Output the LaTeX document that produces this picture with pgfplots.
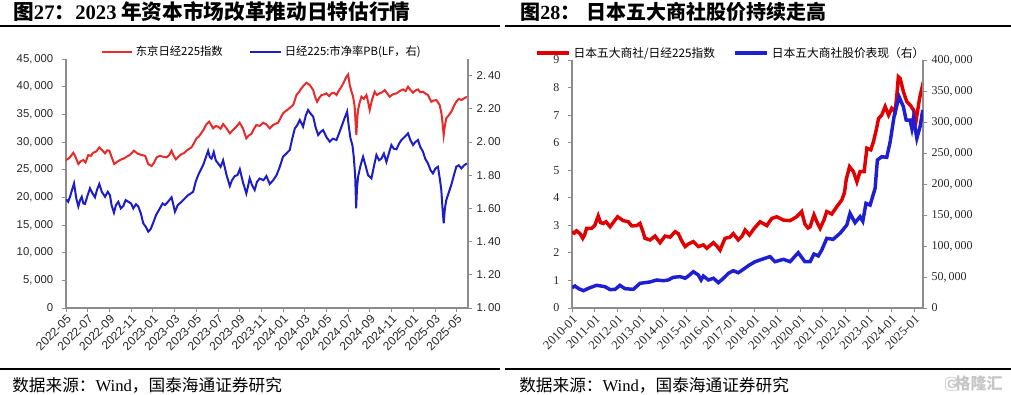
\documentclass[border=0pt]{standalone}
\usepackage{pgfplots}
\usepackage{pgfplotstable}
\pgfplotsset{compat=1.18}
\usepackage{fontspec}
\setmainfont{Liberation Sans}
\newfontfamily\cjk{Noto Sans CJK SC}
\newfontfamily\serif{Liberation Serif}
\definecolor{nred}{RGB}{232,42,42}
\definecolor{nblue}{RGB}{28,28,200}
\definecolor{axgray}{RGB}{140,140,140}
\definecolor{rred}{RGB}{225,0,0}
\definecolor{rblue}{RGB}{30,30,210}

\pgfplotstableread{
m v
0 26740
0.3 27100
0.68 28060
0.9 27200
1.14 26020
1.35 26500
1.6 26740
1.8 26300
2.05 27650
2.3 27500
2.5 28060
2.8 28300
3.07 29030
3.3 28600
3.6 27950
3.8 28500
4.0 28430
4.2 27300
4.45 26020
4.7 26400
4.97 26740
5.3 27000
5.59 27340
5.9 27700
6.26 28430
6.6 27900
6.97 27650
7.3 27500
7.58 26020
7.89 25660
8.1 26200
8.35 27230
8.65 27500
8.96 27340
9.27 27230
9.5 27600
9.73 28430
9.9 27600
10.13 26860
10.4 27400
10.65 27830
10.9 28000
11.1 28430
11.3 28700
11.56 29030
11.8 29800
12.03 30660
12.25 31000
12.49 31680
12.7 32300
12.95 33250
13.2 33670
13.4 33000
13.56 32470
13.8 32900
14.02 32760
14.25 32400
14.48 33250
14.75 32600
15.1 31570
15.4 32200
15.65 32650
16.0 33490
16.3 32500
16.62 30660
16.85 31200
17.08 31440
17.3 32300
17.54 33070
17.85 32900
18.17 33490
18.45 33200
18.78 32470
19.1 33100
19.55 33490
20.0 35180
20.25 35600
20.47 35900
20.7 36300
20.93 36680
21.1 37600
21.24 38490
21.5 39100
21.7 39700
21.95 40300
22.16 40710
22.47 40300
22.78 39390
22.95 38200
23.14 37280
23.35 38000
23.55 38490
23.8 38600
24.0 38790
24.25 38300
24.47 38790
24.7 38900
24.93 38490
25.15 39300
25.39 39990
25.6 40800
25.85 41800
26.0 42200
26.15 40300
26.3 39200
26.46 38180
26.6 36500
26.76 31260
26.85 34500
26.92 35780
27.05 37000
27.23 38180
27.45 37800
27.69 38490
27.85 37200
27.99 35780
28.2 37600
28.45 39090
28.65 38500
28.91 38790
29.15 39000
29.37 39390
29.6 38800
29.83 38180
30.1 38600
30.45 38790
30.75 39200
31.06 39510
31.3 39200
31.52 39990
31.75 39400
31.98 38910
32.2 39300
32.44 39510
32.65 39000
32.9 39090
33.1 38800
33.36 38490
33.5 37900
33.67 37280
33.9 37500
34.13 37590
34.3 37100
34.44 36680
34.6 35200
34.69 33670
34.81 31260
34.92 33000
35.05 34280
35.3 34900
35.51 35470
35.75 36500
35.97 37280
36.2 37800
36.44 37590
36.7 37900
36.95 38180
}\nikkei

\pgfplotstableread{
m v
0 1.655
0.2 1.64
0.37 1.67
0.55 1.71
0.74 1.751
0.95 1.66
1.14 1.612
1.3 1.65
1.45 1.67
1.6 1.63
1.75 1.627
2.0 1.68
2.21 1.721
2.45 1.69
2.67 1.667
2.85 1.71
3.07 1.747
3.3 1.70
3.6 1.67
3.85 1.70
4.05 1.68
4.2 1.62
4.42 1.574
4.6 1.62
4.82 1.64
5.05 1.60
5.28 1.614
5.5 1.65
5.74 1.64
6.0 1.63
6.2 1.60
6.45 1.625
6.66 1.612
6.9 1.57
7.12 1.51
7.35 1.49
7.58 1.46
7.8 1.475
8.04 1.514
8.3 1.56
8.65 1.60
8.9 1.63
9.12 1.62
9.4 1.64
9.73 1.667
9.9 1.62
10.04 1.58
10.3 1.62
10.65 1.64
10.95 1.66
11.26 1.68
11.5 1.69
11.72 1.70
11.95 1.76
12.18 1.80
12.4 1.83
12.64 1.861
12.85 1.90
13.1 1.947
13.25 1.91
13.41 1.90
13.62 1.94
13.8 1.89
14.02 1.871
14.25 1.85
14.48 1.89
14.8 1.80
15.1 1.735
15.3 1.77
15.56 1.795
15.8 1.80
16.02 1.836
16.3 1.76
16.62 1.69
16.8 1.74
16.93 1.781
17.15 1.74
17.39 1.711
17.6 1.76
17.85 1.78
18.2 1.77
18.47 1.795
18.78 1.747
19.1 1.77
19.4 1.80
19.7 1.85
20.0 1.911
20.3 1.93
20.62 1.952
20.85 2.02
21.09 2.082
21.3 2.10
21.55 2.133
21.85 2.092
22.1 2.16
22.31 2.193
22.55 2.17
22.78 2.153
23.0 2.09
23.24 2.042
23.45 2.06
23.7 2.072
24.0 2.03
24.31 2.002
24.6 2.02
24.93 2.012
25.15 2.05
25.39 2.092
25.65 2.14
25.91 2.183
26.05 2.10
26.22 2.022
26.4 1.98
26.52 1.911
26.65 1.80
26.74 1.60
26.82 1.72
26.92 1.791
27.15 1.86
27.38 1.911
27.6 1.86
27.84 1.80
28.0 1.79
28.15 1.781
28.4 1.86
28.61 1.922
28.85 1.89
29.07 1.90
29.3 1.93
29.53 1.88
29.75 1.93
29.99 1.982
30.2 1.96
30.45 1.956
30.7 1.99
30.91 2.012
31.2 2.03
31.52 2.052
31.75 2.01
31.98 1.982
32.2 2.00
32.44 2.012
32.65 1.97
32.9 1.942
33.1 1.90
33.36 1.871
33.6 1.83
33.82 1.811
34.05 1.84
34.28 1.851
34.45 1.78
34.59 1.711
34.7 1.60
34.81 1.51
34.92 1.60
35.05 1.651
35.3 1.70
35.51 1.741
35.75 1.80
35.97 1.851
36.2 1.86
36.44 1.841
36.7 1.86
36.95 1.871
}\pbtab

\pgfplotstableread{
t v
2010.0 2.77
2010.1 2.72
2010.2 2.80
2010.35 2.70
2010.47 2.53
2010.55 2.65
2010.64 2.89
2010.86 2.89
2011.0 3.00
2011.15 3.34
2011.25 3.10
2011.37 3.07
2011.49 3.13
2011.67 2.95
2011.85 3.15
2012.0 3.31
2012.25 3.17
2012.47 3.13
2012.62 2.98
2012.84 2.99
2012.98 3.07
2013.1 2.80
2013.2 2.53
2013.42 2.47
2013.64 2.61
2013.86 2.37
2014.08 2.61
2014.3 2.57
2014.52 2.77
2014.66 2.70
2014.8 2.45
2014.96 2.23
2015.1 2.32
2015.32 2.41
2015.54 2.23
2015.76 2.29
2015.91 2.17
2016.2 2.37
2016.35 2.25
2016.49 2.10
2016.71 2.53
2016.93 2.57
2017.07 2.70
2017.29 2.47
2017.45 2.60
2017.59 2.83
2017.78 2.65
2018.0 2.90
2018.25 3.13
2018.54 2.99
2018.76 3.25
2018.98 3.31
2019.27 3.19
2019.56 3.17
2019.85 3.31
2020.07 3.50
2020.21 3.05
2020.35 2.90
2020.44 2.95
2020.61 3.38
2020.75 3.10
2020.88 2.89
2021.05 3.20
2021.17 3.50
2021.39 3.41
2021.61 3.68
2021.83 3.92
2021.95 4.20
2022.02 4.65
2022.17 5.13
2022.34 4.95
2022.49 4.58
2022.63 4.95
2022.81 4.95
2022.93 5.80
2023.1 5.74
2023.22 6.04
2023.35 6.50
2023.44 6.88
2023.58 7.00
2023.73 7.31
2023.88 7.00
2024.02 7.25
2024.17 7.13
2024.25 7.80
2024.31 8.39
2024.39 8.33
2024.53 7.85
2024.68 7.49
2024.82 7.37
2024.97 7.19
2025.09 6.82
2025.24 7.61
2025.34 7.97
2025.41 7.73
}\ratio

\pgfplotstableread{
t v
2010.0 32800
2010.13 35500
2010.3 31000
2010.5 28000
2010.79 32800
2011.08 36600
2011.45 34400
2011.67 29600
2011.89 30100
2012.1 36600
2012.32 31200
2012.69 30100
2012.98 39800
2013.2 40900
2013.42 42000
2013.71 45200
2014.0 44000
2014.22 45200
2014.44 49500
2014.74 50600
2014.96 48000
2015.1 51600
2015.32 58600
2015.54 53200
2015.66 45200
2015.76 51600
2015.98 45200
2016.2 48000
2016.42 40900
2016.64 48000
2016.86 56000
2017.07 60200
2017.29 56900
2017.51 62400
2017.78 69400
2018.03 74700
2018.32 78500
2018.68 82800
2018.9 74700
2019.27 78500
2019.56 74700
2019.92 89200
2020.21 74700
2020.44 74700
2020.61 87100
2020.8 84000
2020.95 93500
2021.17 112400
2021.45 110800
2021.75 120400
2022.05 133900
2022.19 152700
2022.41 137600
2022.63 147300
2022.75 140000
2022.89 168900
2023.07 166000
2023.29 193000
2023.39 238700
2023.58 244000
2023.8 243000
2023.95 268000
2024.12 308600
2024.34 340800
2024.53 324700
2024.65 303200
2024.82 303000
2024.9 289800
2024.97 306000
2025.12 273700
2025.26 292400
2025.38 319400
}\shosha

\pgfplotsset{
  base/.style={scale only axis, anchor=south west,
    axis line style={axgray, line width=0.8pt},
    tick style={axgray, line width=0.6pt},
    major tick length=3pt, tick align=outside,
    /pgf/number format/assume math mode=true,
    ticklabel style={text=black!85},
    scaled ticks=false},
}

\begin{document}
\begin{tikzpicture}[x=0.75pt,y=-0.75pt]
\path[use as bounding box] (0,0) rectangle (1011,394);

% titles and rules
\node[anchor=base west, inner sep=0pt, font=\cjk\bfseries\fontsize{15.5}{15.5}\selectfont] at (13,19)
  {图{\serif\bfseries 27}：{\serif\bfseries 2023} 年资本市场改革推动日特估行情};
\node[anchor=base west, inner sep=0pt, font=\cjk\bfseries\fontsize{15}{15}\selectfont] at (520,19)
  {图{\serif\bfseries 28}：\hspace{5pt}日本五大商社股价持续走高};
\draw[line width=1.1pt] (0,26) -- (500,26);
\draw[line width=1.1pt] (505,26) -- (1011,26);
\draw[line width=1.1pt] (0,369) -- (500,369);
\draw[line width=1.1pt] (505,369) -- (1011,369);
\node[anchor=base west, inner sep=0pt, font=\cjk\fontsize{12.5}{13}\selectfont] at (12,391)
  {数据来源：{\serif Wind}，国泰海通证券研究};
\node[anchor=base west, inner sep=0pt, font=\cjk\fontsize{12.5}{13}\selectfont] at (519,391)
  {数据来源：{\serif Wind}，国泰海通证券研究};
\node[text=gray!45, font=\cjk\bfseries\fontsize{12}{12}\selectfont, anchor=base east, inner sep=0pt] at (1003,389) {格隆汇};
\node[draw=gray!45, rounded corners=2pt, text=gray!45, font=\bfseries\fontsize{9}{9}\selectfont, inner sep=1.5pt] at (952,384) {G};

% ---------------- left chart
\begin{axis}[base, at={(49.5pt,-231pt)}, width=301.5pt, height=186.75pt,
  xmin=0, xmax=37.05, ymin=0, ymax=45000,
  axis x line*=bottom, axis y line*=left,
  xtick={0,2,...,36},
  xticklabels={2022-05,2022-07,2022-09,2022-11,2023-01,2023-03,2023-05,2023-07,2023-09,2023-11,2024-01,2024-03,2024-05,2024-07,2024-09,2024-11,2025-01,2025-03,2025-05},
  xticklabel style={rotate=45, anchor=north east, font=\fontsize{9}{9}\selectfont, inner sep=1pt},
  ytick={0,5000,...,45000},
  yticklabel style={font=\fontsize{8.5}{9}\selectfont, xshift=-3pt, /pgf/number format/fixed, /pgf/number format/1000 sep={,\,}},
]
\addplot[nred, line width=1.5pt] table[x=m,y=v] {\nikkei};
\end{axis}

\begin{axis}[base, at={(49.5pt,-231pt)}, width=301.5pt, height=186.75pt,
  xmin=0, xmax=37.05, ymin=1, ymax=2.5,
  axis y line*=right, axis x line=none,
  ytick={1,1.2,1.4,1.6,1.8,2,2.2,2.4},
  yticklabel style={font=\fontsize{8.5}{9}\selectfont, /pgf/number format/.cd, fixed, fixed zerofill, precision=2, dec sep={.\,}},
  legend columns=2,
  legend image code/.code={\draw[#1] (0pt,0pt) -- (23pt,0pt);},
  legend style={at={(0.4876,1.028)}, anchor=center, draw=none, fill=none,
    font=\cjk\fontsize{8.5}{9}\selectfont, inner sep=0pt,
    /tikz/every even column/.append style={column sep=18pt}},
]
\addlegendimage{nred, line width=1.5pt}
\addlegendentry{东京日经225指数}
\addplot[nblue, line width=1.5pt] table[x=m,y=v] {\pbtab};
\addlegendentry{日经225:市净率PB(LF，右)}
\end{axis}

% ---------------- right chart
\begin{axis}[base, at={(429pt,-231pt)}, width=263.25pt, height=186pt,
  xmin=2010, xmax=2025.39, ymin=0, ymax=9,
  axis x line*=bottom, axis y line*=left,
  xtick={2010,2011,...,2025},
  xticklabels={2010-01,2011-01,2012-01,2013-01,2014-01,2015-01,2016-01,2017-01,2018-01,2019-01,2020-01,2021-01,2022-01,2023-01,2024-01,2025-01},
  xticklabel style={rotate=45, anchor=north east, font=\serif\fontsize{9.5}{9}\selectfont, inner sep=1pt},
  ytick={0,1,...,9},
  yticklabel style={font=\serif\fontsize{9}{9}\selectfont, xshift=-3pt},
]
\addplot[rred, line width=2.6pt] table[x=t,y=v] {\ratio};
\end{axis}

\begin{axis}[base, at={(429pt,-231pt)}, width=263.25pt, height=186pt,
  xmin=2010, xmax=2025.39, ymin=0, ymax=400000,
  axis y line*=right, axis x line=none,
  ytick={0,50000,...,400000},
  yticklabel style={font=\serif\fontsize{9}{9}\selectfont, /pgf/number format/fixed, /pgf/number format/1000 sep={,\,}},
  legend columns=2,
  legend image code/.code={\draw[#1] (0pt,0pt) -- (24pt,0pt);},
  legend style={at={(0.453,1.028)}, anchor=center, draw=none, fill=none,
    font=\cjk\fontsize{8.8}{9}\selectfont, inner sep=0pt,
    /tikz/every even column/.append style={column sep=12pt}},
]
\addlegendimage{rred, line width=3pt}
\addlegendentry{日本五大商社/日经225指数}
\addplot[rblue, line width=2.6pt] table[x=t,y=v] {\shosha};
\addlegendentry{日本五大商社股价表现（右）}
\end{axis}
\end{tikzpicture}
\end{document}
